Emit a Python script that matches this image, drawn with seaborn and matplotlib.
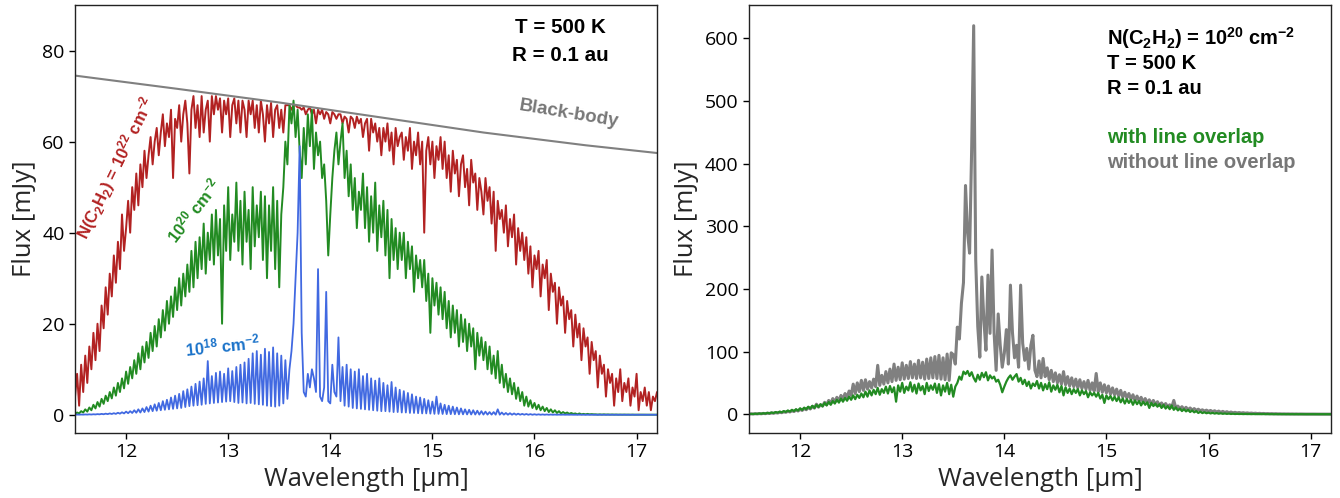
import numpy as np
import matplotlib
matplotlib.use("Agg")
import matplotlib.pyplot as plt
import seaborn as sns

# wavelength grid (micron) shared by all spectra
wl_start = 11.5
wl_step = 0.02

# N(C2H2) = 1e22 cm-2, T = 500 K
flux_22 = [
    4, 9, 2, 11, 5, 13, 7, 15, 10, 18,            # 11.50
    12, 20, 14, 24, 19, 28, 22, 31, 26, 35,       # 11.70
    29, 38, 32, 44, 36, 41, 47, 40, 50, 45,       # 11.90
    53, 46, 55, 50, 58, 52, 57, 61, 55, 60,       # 12.10
    63, 57, 62, 66, 59, 64, 61, 67, 52, 65,       # 12.30
    63, 68, 60, 66, 69, 64, 53, 67, 70, 63,       # 12.50
    68, 61, 70, 62, 67, 69, 60, 70, 66, 70,       # 12.70
    67, 69.5, 62, 69, 66, 69.5, 61, 68, 69.5, 64, # 12.90
    69, 62, 69, 67, 61, 69, 66, 69, 63, 68,       # 13.10
    62, 69, 66, 60, 68, 64, 68.5, 61, 67, 68,     # 13.30
    63, 67, 62, 68, 68, 68, 67, 68, 68, 67.5,     # 13.50
    67.5, 67, 67.5, 66, 67, 67.5, 66, 67, 64, 67, # 13.70
    66, 67, 65, 66.5, 66, 64, 66.5, 66, 65, 66,   # 13.90
    66, 64, 65.5, 65, 62, 65.5, 65, 63, 65.5, 64, # 14.10
    65, 61, 64, 65, 58, 65, 62, 64, 60, 63,       # 14.30
    57, 63, 60, 64, 58, 62, 55, 63, 59, 61,       # 14.50
    62, 56, 61, 58, 63, 54, 60, 57, 62, 55,       # 14.70
    60, 40, 58, 61, 55, 60, 52, 59, 56, 61,       # 14.90
    54, 60, 52, 57, 49, 58, 53, 56, 48, 55,       # 15.10
    57, 50, 54, 46, 56, 51, 53, 45, 52, 49,       # 15.30
    44, 52, 47, 50, 42, 49, 36, 47, 43, 45,       # 15.50
    40, 46, 37, 43, 39, 44, 33, 41, 36, 40,       # 15.70
    34, 39, 31, 37, 28, 35, 32, 36, 26, 33,       # 15.90
    30, 34, 23, 31, 27, 29, 20, 28, 24, 26,       # 16.10
    18, 25, 21, 23, 15, 22, 17, 20, 12, 19,       # 16.30
    15, 17, 9, 16, 12, 14, 6, 13, 9, 11,          # 16.50
    4, 10, 7, 9, 2, 8, 5, 10, 3, 7,               # 16.70
    5, 8, 2, 6, 4, 9, 1, 5, 3, 6,                 # 16.90
    2, 5, 1, 4, 3, 5,                             # 17.10
]

# N(C2H2) = 1e20 cm-2 (also the "with line overlap" spectrum)
flux_20 = [
    0.2, 0.5, 0.3, 0.8, 0.5, 1.2, 0.7, 1.6, 1.0, 2.2,
    1.4, 2.8, 1.8, 3.5, 2.4, 4.2, 3.0, 5.0, 3.6, 6.0,
    4.2, 7.0, 5.0, 8.0, 5.8, 9.5, 6.8, 10.5, 8.0, 12.0,
    9.0, 13.5, 10.0, 15.0, 11.5, 16.0, 12.5, 18.0, 14.0, 19.5,
    15.0, 21.0, 17.0, 23.0, 18.5, 25.0, 20.0, 26.0, 21.5, 28.0,
    23, 30, 24, 31, 26, 33, 27, 36, 28, 38,
    30, 39, 32, 42, 31, 40, 34, 44, 33, 45,
    35, 43, 20, 46, 36, 50, 34, 44, 38, 51,
    36, 47, 33, 49, 38, 45, 32, 50, 37, 46,
    39, 49, 34, 48, 30, 46, 36, 50, 32, 47,
    28, 44, 50, 60, 55, 68, 64, 69, 61, 67,
    58, 52, 63, 55, 66, 59, 67, 54, 62, 57,
    60, 52, 55, 47, 35, 44, 52, 58, 62, 55,
    60, 64, 52, 58, 48, 55, 45, 52, 41, 49,
    45, 53, 41, 50, 38, 48, 40, 51, 36, 46,
    39, 47, 35, 45, 30, 43, 34, 41, 32, 40,
    34, 40, 30, 38, 32, 37, 27, 35, 30, 34,
    28, 34, 25, 31, 18, 30, 24, 29, 22, 28,
    21, 27, 19, 25, 17, 24, 18, 23, 15, 22,
    16, 21, 14, 20, 15, 19, 10, 18, 13, 17,
    12, 16, 10, 15, 9, 13, 8, 14, 7, 11,
    6, 9, 5, 8, 4.5, 7, 3.5, 6, 3, 5,
    2, 4, 1.8, 3.2, 1.5, 2.6, 1.2, 2.2, 1.0, 1.8,
    0.8, 1.5, 0.6, 1.2, 0.5, 1.0, 0.4, 0.8, 0.3, 0.6,
    0.3, 0.5, 0.2, 0.4, 0.2, 0.3, 0.1, 0.3, 0.1, 0.2,
    0.1, 0.2, 0.1, 0.15, 0.1, 0.1, 0.05, 0.1, 0.05, 0.1,
    0.05, 0.08, 0.04, 0.07, 0.04, 0.06, 0.03, 0.05, 0.03, 0.05,
    0.03, 0.04, 0.02, 0.04, 0.02, 0.03, 0.02, 0.03, 0.02, 0.03,
    0.02, 0.02, 0.01, 0.02, 0.01, 0.02,
]

# N(C2H2) = 1e18 cm-2
flux_18 = [
    0.02, 0.05, 0.03, 0.06, 0.04, 0.08, 0.05, 0.1, 0.06, 0.12,
    0.08, 0.15, 0.1, 0.2, 0.12, 0.25, 0.15, 0.3, 0.18, 0.35,
    0.2, 0.45, 0.25, 0.55, 0.3, 0.7, 0.35, 0.8, 0.4, 1.0,
    0.45, 1.2, 0.5, 1.4, 0.6, 1.7, 0.7, 2.0, 0.8, 2.3,
    0.9, 2.6, 1.0, 3.0, 1.1, 3.3, 1.2, 3.8, 1.3, 4.2,
    1.4, 4.6, 1.5, 5.2, 1.7, 5.6, 1.9, 6.2, 2.0, 6.8,
    2.1, 7.3, 2.2, 8.0, 2.4, 11.8, 2.5, 8.5, 2.6, 9.2,
    2.7, 9.5, 2.8, 9.0, 2.9, 10.2, 3.0, 9.6, 2.8, 10.5,
    2.6, 11.0, 2.7, 11.5, 2.5, 12.3, 2.6, 13.5, 2.4, 14.0,
    2.3, 13.2, 2.2, 14.5, 2.0, 13.8, 1.9, 14.8, 1.8, 13.5,
    2.0, 13.0, 2.5, 12.0, 3.5, 10.0, 14.0, 20.0, 30.0, 40.0,
    59.0, 18.0, 5.0, 4.0, 9.0, 6.0, 10.0, 8.0, 5.0, 32.0,
    4.0, 3.0, 6.0, 27.0, 3.0, 2.5, 11.0, 5.0, 4.0, 17.0,
    3.0, 10.5, 2.0, 11.0, 1.8, 10.0, 1.5, 9.5, 1.4, 10.0,
    1.3, 8.5, 1.2, 9.0, 1.1, 8.0, 1.0, 7.5, 0.9, 8.0,
    0.8, 7.0, 0.8, 6.5, 0.7, 7.2, 0.6, 6.0, 0.6, 5.5,
    0.5, 5.2, 0.5, 4.8, 0.4, 4.5, 0.4, 4.0, 0.35, 3.8,
    0.3, 3.5, 0.3, 3.2, 0.25, 2.9, 0.2, 4.0, 0.2, 2.5,
    0.18, 2.2, 0.15, 2.0, 0.14, 1.8, 0.12, 1.6, 0.1, 1.4,
    0.1, 1.2, 0.08, 1.1, 0.07, 1.0, 0.06, 0.9, 0.05, 0.8,
    0.05, 0.7, 0.04, 0.6, 0.04, 0.6, 0.03, 1.2, 0.03, 0.5,
    0.03, 0.4, 0.02, 0.35, 0.02, 0.3, 0.02, 0.25, 0.02, 0.2,
    0.02, 0.18, 0.01, 0.15, 0.01, 0.12, 0.01, 0.1, 0.01, 0.08,
    0.01, 0.07, 0.01, 0.06, 0.01, 0.05, 0.01, 0.04, 0.01, 0.04,
    0.01, 0.03, 0.01, 0.03, 0.01, 0.02, 0.01, 0.02, 0.01, 0.02,
    0.01, 0.02, 0.01, 0.01, 0.01, 0.01, 0.01, 0.01, 0.01, 0.01,
    0.01, 0.01, 0.01, 0.01, 0.01, 0.01, 0.01, 0.01, 0.01, 0.01,
    0.01, 0.01, 0.01, 0.01, 0.01, 0.01, 0.01, 0.01, 0.01, 0.01,
    0.01, 0.01, 0.01, 0.01, 0.01, 0.01,
]

# N(C2H2) = 1e20 cm-2 computed without line overlap
flux_20_nooverlap = [
    0.3, 0.6, 0.4, 0.8, 0.5, 1.0, 0.7, 1.3, 0.9, 1.6,
    1.2, 2.0, 1.5, 2.5, 1.9, 3.1, 2.4, 3.8, 3.0, 4.6,
    3.6, 5.5, 4.3, 6.6, 5.1, 7.8, 6.0, 9.2, 7.1, 10.8,
    8.3, 12.5, 9.7, 16, 11.2, 15, 13, 19, 15, 22,
    17, 25, 19, 27, 21, 30, 24, 33, 27, 37,
    30, 48, 33, 50, 36, 54, 38, 55, 40, 52,
    42, 56, 44, 78, 46, 62, 48, 68, 50, 72,
    52, 80, 54, 75, 55, 82, 56, 78, 57, 84,
    58, 80, 57, 86, 58, 83, 56, 88, 57, 90,
    58, 92, 57, 94, 56, 90, 55, 96, 54, 98,
    95, 80, 139, 120, 177, 210, 365, 290, 257, 421,
    620, 246, 140, 91, 219, 150, 102, 222, 129, 262,
    130, 70, 160, 110, 75, 97, 135, 80, 206, 130,
    90, 110, 75, 206, 113, 86, 105, 72, 110, 126,
    70, 60, 85, 58, 89, 60, 74, 55, 70, 52,
    66, 50, 63, 48, 68, 47, 60, 45, 58, 44,
    56, 42, 55, 41, 52, 40, 54, 38, 50, 37,
    65, 36, 50, 35, 47, 34, 45, 32, 42, 31,
    40, 29, 38, 27, 35, 26, 33, 24, 31, 22,
    29, 21, 27, 19, 25, 18, 23, 16, 22, 15,
    20, 14, 18, 13, 17, 12, 15, 11, 22, 10,
    13, 9, 12, 8, 11, 7, 10, 6.5, 9, 6,
    8, 5.5, 7, 5, 6.5, 4.5, 6, 4, 5.5, 3.5,
    5, 3, 4.5, 2.8, 4, 2.5, 3.5, 2.2, 3, 2,
    2.7, 1.8, 2.4, 1.6, 2.1, 1.4, 1.8, 1.2, 1.6, 1.0,
    1.4, 0.9, 1.2, 0.8, 1.0, 0.7, 0.9, 0.6, 0.8, 0.5,
    0.6, 0.4, 0.5, 0.35, 0.45, 0.3, 0.4, 0.25, 0.35, 0.2,
    0.3, 0.2, 0.25, 0.15, 0.2, 0.12, 0.18, 0.1, 0.15, 0.1,
    0.1, 0.08, 0.1, 0.07, 0.08, 0.06,
]

# black-body continuum
bb_wl = [11.5, 12.5, 13.5, 14.5, 15.5, 16.5, 17.2]
bb_flux = [74.5, 71.6, 68.6, 65.3, 62.0, 59.2, 57.5]

xticks = [12, 13, 14, 15, 16, 17]
yticks_left = [0, 20, 40, 60, 80]
yticks_right = [0, 100, 200, 300, 400, 500, 600]

RED = '#b22222'
GREEN = '#228b22'
BLUE = '#4169e1'
GREY = '#808080'


def wavelengths(flux):
    return wl_start + wl_step * np.arange(len(flux))


sns.set_style('ticks')
plt.rcParams['font.family'] = ['Open Sans', 'DejaVu Sans']
plt.rcParams['mathtext.fontset'] = 'custom'
plt.rcParams['mathtext.rm'] = 'Liberation Sans:bold'
plt.rcParams['mathtext.it'] = 'Liberation Sans:bold:italic'
plt.rcParams['mathtext.bf'] = 'Liberation Sans:bold'

fig = plt.figure(figsize=(13.4, 4.98), dpi=100)
ax1 = fig.add_axes([0.056, 0.1305, 0.4343, 0.8594])
ax2 = fig.add_axes([0.559, 0.1305, 0.4343, 0.8594])

lbl = dict(family=['Liberation Sans', 'DejaVu Sans'], fontweight='bold')

# ---- left panel: three column densities
sns.lineplot(x=wavelengths(flux_22), y=flux_22, ax=ax1, color=RED, lw=1.4, estimator=None)
sns.lineplot(x=wavelengths(flux_20), y=flux_20, ax=ax1, color=GREEN, lw=1.4, estimator=None)
sns.lineplot(x=wavelengths(flux_18), y=flux_18, ax=ax1, color=BLUE, lw=1.3, estimator=None)
sns.lineplot(x=bb_wl, y=bb_flux, ax=ax1, color=GREY, lw=1.5, estimator=None)

ax1.set_xlim(11.5, 17.2)
ax1.set_ylim(-4, 90)
ax1.set_yticks(yticks_left)

ax1.text(16.25, 85, 'T = 500 K', ha='center', va='center', fontsize=14.8, color='black', **lbl)
ax1.text(16.25, 79, 'R = 0.1 au', ha='center', va='center', fontsize=14.8, color='black', **lbl)
ax1.text(16.34, 66, 'Black-body', ha='center', va='center', rotation=-9.5,
         rotation_mode='anchor', fontsize=13.5, color='#777777', **lbl)
ax1.text(11.90, 54.3, r'N(C$_2$H$_2$) = 10$^{22}$ cm$^{-2}$', ha='center', va='center',
         rotation=64, rotation_mode='anchor', fontsize=12, color=RED, **lbl)
ax1.text(12.66, 45, r'10$^{20}$ cm$^{-2}$', ha='center', va='center',
         rotation=52, rotation_mode='anchor', fontsize=12, color=GREEN, **lbl)
ax1.text(12.95, 15.2, r'10$^{18}$ cm$^{-2}$', ha='center', va='center',
         rotation=6, rotation_mode='anchor', fontsize=12, color='#1a72c9', **lbl)

# ---- right panel: with / without line overlap
sns.lineplot(x=wavelengths(flux_20_nooverlap), y=flux_20_nooverlap, ax=ax2, color=GREY, lw=2.2, estimator=None)
sns.lineplot(x=wavelengths(flux_20), y=flux_20, ax=ax2, color=GREEN, lw=1.6, estimator=None)

ax2.set_xlim(11.5, 17.2)
ax2.set_ylim(-30, 653)
ax2.set_yticks(yticks_right)

ax2.text(15.01, 600, r'N(C$_2$H$_2$) = 10$^{20}$ cm$^{-2}$', ha='left', va='center', fontsize=14.5, color='black', **lbl)
ax2.text(15.01, 560, 'T = 500 K', ha='left', va='center', fontsize=14.5, color='black', **lbl)
ax2.text(15.01, 520, 'R = 0.1 au', ha='left', va='center', fontsize=14.5, color='black', **lbl)
ax2.text(15.01, 442, 'with line overlap', ha='left', va='center', fontsize=14.5, color=GREEN, **lbl)
ax2.text(15.01, 402, 'without line overlap', ha='left', va='center', fontsize=14.5, color='#777777', **lbl)

for ax in (ax1, ax2):
    ax.set_xticks(xticks)
    ax.set_xlabel('Wavelength [µm]', fontsize=18.5)
    ax.set_ylabel('Flux [mJy]', fontsize=18.5)
    ax.tick_params(direction='out', length=4, width=1, labelsize=14, colors='black')
    for side in ('top', 'right', 'bottom', 'left'):
        ax.spines[side].set_visible(True)
        ax.spines[side].set_color('#222222')
        ax.spines[side].set_linewidth(1.0)

fig.savefig('out.png', dpi=100)
